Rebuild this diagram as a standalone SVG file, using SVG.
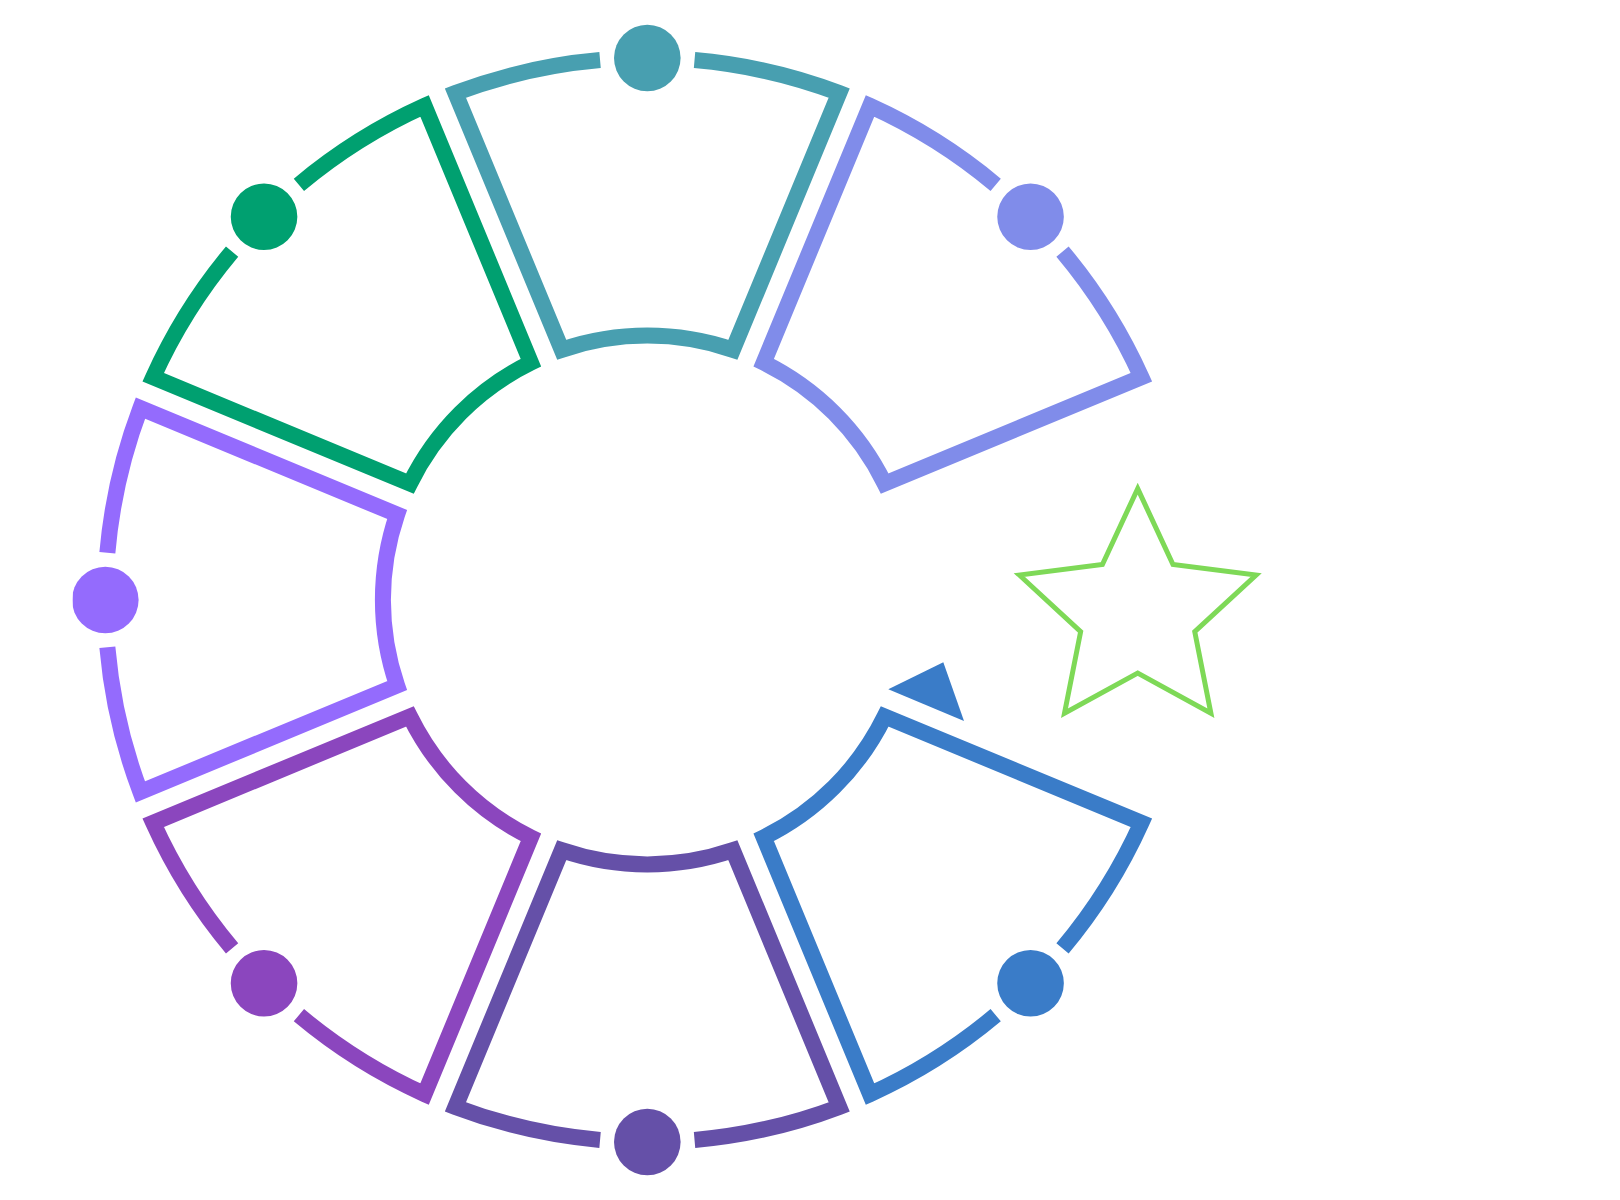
<svg xmlns="http://www.w3.org/2000/svg" width="1620" height="1200" viewBox="0 0 1620 1200">
  <style>
    .seg { fill: none; stroke-width: 16; stroke-linecap: butt; stroke-linejoin: miter; stroke-miterlimit: 10; }
    .star { fill: none; stroke: #7ed957; stroke-width: 5; stroke-linejoin: miter; stroke-miterlimit: 10; }
  </style>
  <defs>
    <path id="sector" d="M 600.06 60.06 A 542 542 0 0 0 455.4 93.1 L 561.74 349.83 A 264.4 264.4 0 0 1 732.86 349.83 L 839.2 93.1 A 542 542 0 0 0 694.54 60.06"/>
    <clipPath id="leftclip" clipPathUnits="userSpaceOnUse">
      <rect x="72.7" y="0" width="1547" height="1200"/>
    </clipPath>
  </defs>
  <rect width="1620" height="1200" fill="#ffffff"/>
  <g id="connectors"></g>
  <g id="node-top">
    <use href="#sector" class="seg" stroke="#489fb0"/>
    <circle cx="647.3" cy="58" r="33.3" fill="#489fb0"/>
  </g>
  <g id="node-top-right" transform="rotate(45 647.3 600)">
    <use href="#sector" class="seg" stroke="#808cea"/>
    <circle cx="647.3" cy="58" r="33.3" fill="#808cea"/>
  </g>
  <g id="node-bottom-right" transform="rotate(135 647.3 600)">
    <use href="#sector" class="seg" stroke="#3a7cc8"/>
    <circle cx="647.3" cy="58" r="33.3" fill="#3a7cc8"/>
  </g>
  <g id="node-bottom" transform="rotate(180 647.3 600)">
    <use href="#sector" class="seg" stroke="#6550a8"/>
    <circle cx="647.3" cy="58" r="33.3" fill="#6550a8"/>
  </g>
  <g id="node-bottom-left" transform="rotate(225 647.3 600)">
    <use href="#sector" class="seg" stroke="#8b46be"/>
    <circle cx="647.3" cy="58" r="33.3" fill="#8b46be"/>
  </g>
  <g id="node-left">
    <use href="#sector" class="seg" stroke="#946bfd" transform="rotate(270 647.3 600)"/>
    <circle cx="105.3" cy="600" r="33.3" fill="#946bfd" clip-path="url(#leftclip)"/>
  </g>
  <g id="node-top-left" transform="rotate(315 647.3 600)">
    <use href="#sector" class="seg" stroke="#00a070"/>
    <circle cx="647.3" cy="58" r="33.3" fill="#00a070"/>
  </g>
  <g id="node-arrow">
    <polygon points="888.3,689.3 943.3,662.3 964,721" fill="#3a7cc8"/>
  </g>
  <g id="node-star">
    <polygon class="star" points="1137.7,488.6 1172.97,564.56 1256.1,575 1194.76,631.7 1210.9,713.2 1137.7,673.1 1064.5,713.2 1080.64,631.7 1019.3,575 1102.43,564.56"/>
  </g>
</svg>
